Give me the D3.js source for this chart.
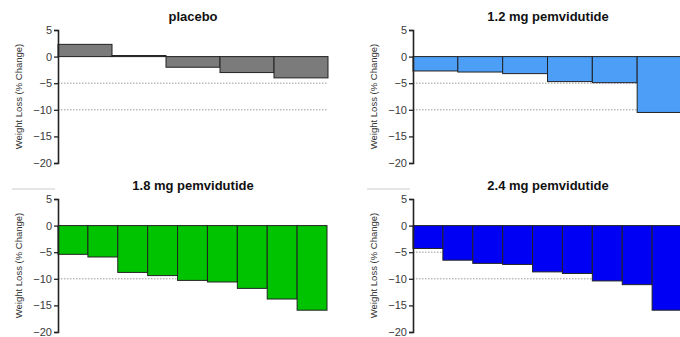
<!DOCTYPE html>
<html>
<head>
<meta charset="utf-8">
<script src="https://cdn.jsdelivr.net/npm/d3@7"></script>
<style>
  html, body { margin: 0; padding: 0; background: #fff; }
  svg { display: block; font-family: "Liberation Sans", Arial, sans-serif; }
  .tick text { fill: #3a3a3a; font-size: 11px; }
</style>
</head>
<body>
<svg id="chart" width="680" height="337"></svg>
<script>
// values per subject, % change in body weight
const placeboVals = [2.3, 0.2, -2.0, -3.0, -4.0];
const mg12Vals = [-2.7, -2.9, -3.2, -4.7, -4.9, -10.5];
const mg18Vals = [-5.4, -5.9, -8.8, -9.4, -10.3, -10.6, -11.8, -13.8, -15.9];
const mg24Vals = [-4.3, -6.5, -7.1, -7.3, -8.7, -9.0, -10.4, -11.1, -15.9];

const panelTitles = ['placebo', '1.2 mg pemvidutide', '1.8 mg pemvidutide', '2.4 mg pemvidutide'];
const yTicks = [5, 0, -5, -10, -15, -20];
const refLines = [-5, -10];

const panels = [
  { title: panelTitles[0], values: placeboVals, color: '#7b7b7b', left: 58, right: 328, top: 30, bottom: 163 },
  { title: panelTitles[1], values: mg12Vals, color: '#4d9ef6', left: 413, right: 682, top: 30, bottom: 163 },
  { title: panelTitles[2], values: mg18Vals, color: '#00c300', left: 58, right: 327, top: 199, bottom: 332 },
  { title: panelTitles[3], values: mg24Vals, color: '#0000f5', left: 413, right: 682, top: 199, bottom: 332 }
];

const svg = d3.select('#chart');

panels.forEach((p, i) => {
  const g = svg.append('g');

  const x = d3.scaleBand()
    .domain(d3.range(p.values.length))
    .range([p.left, p.right])
    .paddingInner(0)
    .paddingOuter(0);

  const y = d3.scaleLinear()
    .domain([-20, 5])
    .range([p.bottom, p.top]);

  // dotted reference lines
  g.selectAll('line.ref')
    .data(refLines)
    .enter().append('line')
    .attr('x1', p.left)
    .attr('x2', p.right)
    .attr('y1', d => y(d))
    .attr('y2', d => y(d))
    .attr('stroke', '#999')
    .attr('stroke-width', 1)
    .attr('stroke-dasharray', '1.5,1.5');

  // bars
  g.selectAll('rect.bar')
    .data(p.values)
    .enter().append('rect')
    .attr('x', (d, j) => x(j))
    .attr('width', x.bandwidth())
    .attr('y', d => y(Math.max(0, d)))
    .attr('height', d => Math.abs(y(d) - y(0)))
    .attr('fill', p.color)
    .attr('stroke', '#222')
    .attr('stroke-width', 1);

  // y axis
  const axis = g.append('g')
    .attr('transform', `translate(${p.left},0)`)
    .call(d3.axisLeft(y).tickValues(yTicks).tickSize(4).tickPadding(2));
  axis.select('.domain').attr('stroke', '#222').attr('stroke-width', 1.6);
  axis.selectAll('.tick line').attr('stroke', '#222').attr('stroke-width', 1.3);

  // axis label
  g.append('text')
    .attr('transform', `translate(${p.left - 36},${(p.top + p.bottom) / 2}) rotate(-90)`)
    .attr('text-anchor', 'middle')
    .attr('font-size', 9.5)
    .attr('fill', '#333')
    .text('Weight Loss (% Change)');

  // title
  g.append('text')
    .attr('x', p.left + 135)
    .attr('y', p.top - 9)
    .attr('text-anchor', 'middle')
    .attr('font-size', 13)
    .attr('font-weight', 'bold')
    .attr('fill', '#111')
    .text(p.title);

  // faint separator line above the lower panels
  if (i >= 2) {
    g.append('line')
      .attr('x1', p.left - 46)
      .attr('x2', p.left - 3)
      .attr('y1', p.top - 10)
      .attr('y2', p.top - 10)
      .attr('stroke', '#ccc')
      .attr('stroke-width', 1);
  }
});
</script>
</body>
</html>
